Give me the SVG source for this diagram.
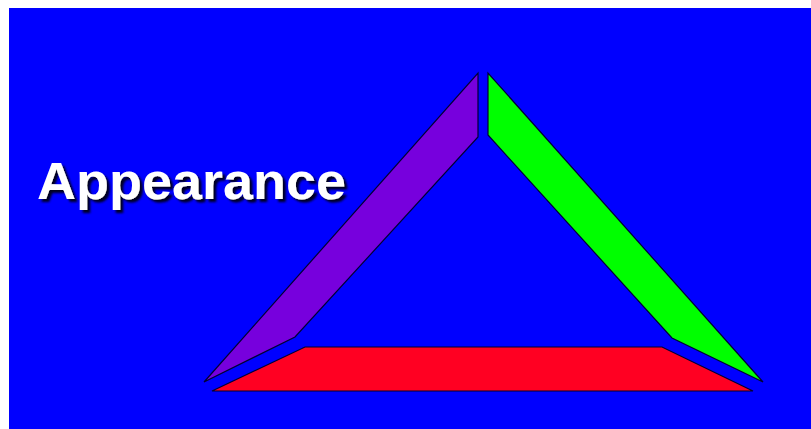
<svg xmlns="http://www.w3.org/2000/svg" width="811" height="429" viewBox="0 0 811 429">
<defs>
<filter id="shadow" x="-10%" y="-30%" width="120%" height="160%">
<feGaussianBlur in="SourceAlpha" stdDeviation="0.8" result="b"/>
<feOffset in="b" dx="3" dy="3" result="o"/>
<feFlood flood-color="#000022"/>
<feComposite in2="o" operator="in" result="s"/>
<feMerge><feMergeNode in="s"/><feMergeNode in="SourceGraphic"/></feMerge>
</filter>
</defs>
<style>
.seg{stroke:#000033;stroke-width:1.2;stroke-linejoin:miter}
.t{font-family:"Liberation Sans",Arial,sans-serif;font-weight:bold;font-size:52px;fill:#ffffff}
</style>
<rect x="0" y="0" width="811" height="429" fill="#ffffff"/>
<rect x="9" y="8" width="802" height="421" fill="#0000ff"/>
<g id="title">
<text class="t" x="37" y="199" filter="url(#shadow)" textLength="309" lengthAdjust="spacingAndGlyphs">Appearance</text>
</g>
<g id="left-side"><polygon class="seg" fill="#7700dd" points="478,73 478,137 295,337 204,382"/></g>
<g id="right-side"><polygon class="seg" fill="#00ff00" points="488,73 488,135 672,338 763,382"/></g>
<g id="base"><polygon class="seg" fill="#ff0022" points="305,347 662,347 753,391 212,391"/></g>
</svg>
